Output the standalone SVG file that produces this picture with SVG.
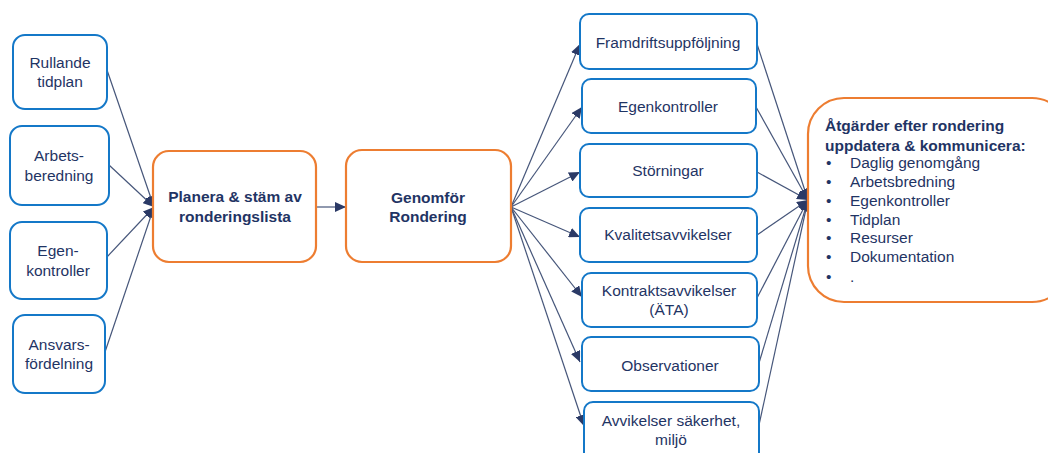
<svg xmlns="http://www.w3.org/2000/svg" width="1048" height="453" viewBox="0 0 1048 453">
<style>
.b{fill:#fff;stroke:#1478C8;stroke-width:2}
.o{fill:#fff;stroke:#ED7D31;stroke-width:2.2}
text{font-family:"Liberation Sans",Arial,sans-serif;font-size:15.5px;fill:#1F3464}
.c{text-anchor:middle}
.bd{font-weight:bold}
.ln{stroke:#46567A;stroke-width:1.2;fill:none;marker-end:url(#ah)}
</style>
<defs>
<marker id="ah" markerUnits="userSpaceOnUse" markerWidth="12" markerHeight="10" refX="11" refY="5" orient="auto">
<path d="M0,0 L11,5 L0,10 z" fill="#2B3A66"/>
</marker>
</defs>
<rect width="1048" height="453" fill="#fff"/>
<g id="connectors">
<line class="ln" x1="107" y1="70" x2="154" y2="207"/>
<line class="ln" x1="109" y1="165" x2="154" y2="207"/>
<line class="ln" x1="106" y1="258" x2="154" y2="207"/>
<line class="ln" x1="105" y1="352" x2="154" y2="207"/>
<line class="ln" x1="316" y1="207" x2="346" y2="207"/>
<line class="ln" x1="511" y1="207" x2="580" y2="44"/>
<line class="ln" x1="511" y1="207" x2="582" y2="107"/>
<line class="ln" x1="511" y1="207" x2="580" y2="172"/>
<line class="ln" x1="511" y1="207" x2="580" y2="237"/>
<line class="ln" x1="511" y1="207" x2="582" y2="297"/>
<line class="ln" x1="511" y1="207" x2="580" y2="362"/>
<line class="ln" x1="511" y1="207" x2="584" y2="426"/>
<line class="ln" x1="757" y1="44" x2="808" y2="200"/>
<line class="ln" x1="756" y1="107" x2="808" y2="200"/>
<line class="ln" x1="757" y1="172" x2="808" y2="200"/>
<line class="ln" x1="757" y1="235" x2="808" y2="200"/>
<line class="ln" x1="757" y1="298" x2="808" y2="200"/>
<line class="ln" x1="759" y1="363" x2="808" y2="200"/>
<line class="ln" x1="759" y1="425" x2="808" y2="200"/>
</g>
<g id="n-rullande"><rect class="b" x="13" y="35" width="94" height="74" rx="12"/><text class="c" x="60" y="68">Rullande</text><text class="c" x="60" y="87">tidplan</text></g>
<g id="n-arbets"><rect class="b" x="10" y="126" width="99" height="79" rx="12"/><text class="c" x="59" y="161">Arbets-</text><text class="c" x="59" y="181">beredning</text></g>
<g id="n-egen"><rect class="b" x="10" y="222" width="97" height="77" rx="12"/><text class="c" x="58" y="256">Egen-</text><text class="c" x="58" y="276">kontroller</text></g>
<g id="n-ansvar"><rect class="b" x="13" y="315" width="92" height="78" rx="12"/><text class="c" x="59" y="350">Ansvars-</text><text class="c" x="59" y="369">fördelning</text></g>
<g id="n-planera"><rect class="o" x="153" y="151" width="163" height="111" rx="16"/><text class="c bd" x="235" y="202">Planera &amp; stäm av</text><text class="c bd" x="235" y="222">ronderingslista</text></g>
<g id="n-genomfor"><rect class="o" x="346" y="150" width="165" height="112" rx="16"/><text class="c bd" x="428" y="203">Genomför</text><text class="c bd" x="428" y="222">Rondering</text></g>
<g id="n-framdrift"><rect class="b" x="580" y="14" width="177" height="55" rx="9"/><text class="c" x="668" y="48">Framdriftsuppföljning</text></g>
<g id="n-egenk"><rect class="b" x="582" y="79" width="174" height="54" rx="9"/><text class="c" x="668" y="112">Egenkontroller</text></g>
<g id="n-storningar"><rect class="b" x="580" y="144" width="177" height="53" rx="9"/><text class="c" x="668" y="176">Störningar</text></g>
<g id="n-kvalitet"><rect class="b" x="580" y="208" width="177" height="54" rx="9"/><text class="c" x="668" y="240">Kvalitetsavvikelser</text></g>
<g id="n-kontrakt"><rect class="b" x="582" y="273" width="175" height="54" rx="9"/><text class="c" x="669" y="296">Kontraktsavvikelser</text><text class="c" x="669" y="315">(ÄTA)</text></g>
<g id="n-observ"><rect class="b" x="582" y="337" width="177" height="54" rx="9"/><text class="c" x="670" y="371">Observationer</text></g>
<g id="n-avvik"><rect class="b" x="584" y="402" width="175" height="60" rx="9"/><text class="c" x="671" y="426">Avvikelser säkerhet,</text><text class="c" x="671" y="445">miljö</text></g>
<g id="n-atgarder"><rect class="o" x="808" y="98" width="260" height="204" rx="36"/>
<text class="bd" x="825" y="131">Åtgärder efter rondering</text>
<text class="bd" x="825" y="151">uppdatera &amp; kommunicera:</text>
<text x="826" y="168">•</text><text x="850" y="168">Daglig genomgång</text>
<text x="826" y="187">•</text><text x="850" y="187">Arbetsbredning</text>
<text x="826" y="206">•</text><text x="850" y="206">Egenkontroller</text>
<text x="826" y="225">•</text><text x="850" y="225">Tidplan</text>
<text x="826" y="243">•</text><text x="850" y="243">Resurser</text>
<text x="826" y="262">•</text><text x="850" y="262">Dokumentation</text>
<text x="826" y="282">•</text><text x="850" y="282">.</text>
</g>
</svg>
